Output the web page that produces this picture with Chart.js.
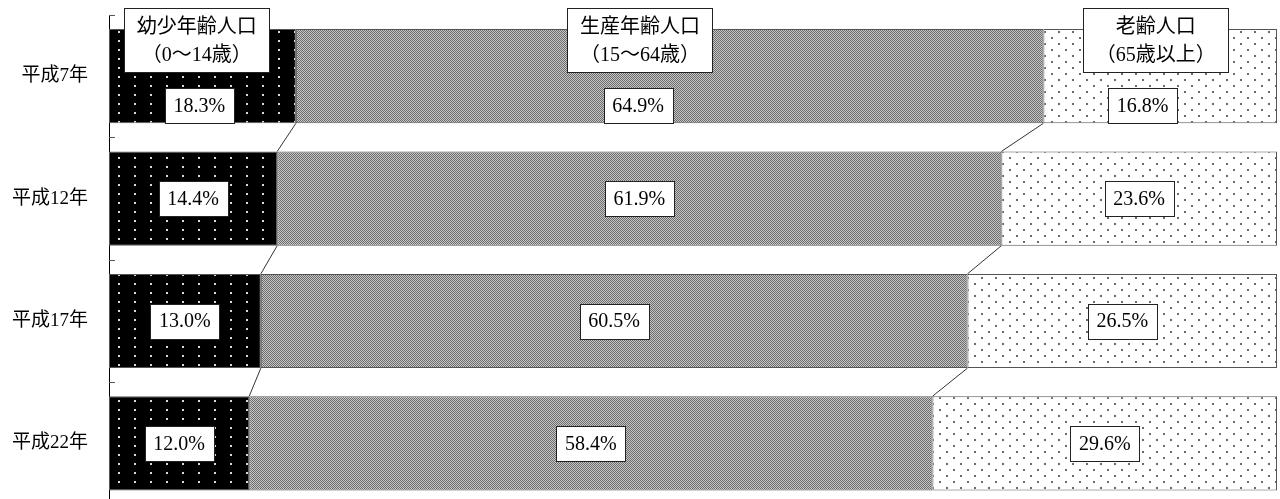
<!DOCTYPE html>
<html>
<head>
<meta charset="utf-8">
<script src="https://cdn.jsdelivr.net/npm/chart.js@4/dist/chart.umd.min.js"></script>
<style>
  html, body { margin: 0; padding: 0; background: #fff; overflow: hidden; }
  #chart { position: absolute; left: 0; top: 0; }
</style>
</head>
<body>
<canvas id="chart" width="1280" height="519"></canvas>
<script>
// categories (rows, top to bottom)
const years = ['平成7年', '平成12年', '平成17年', '平成22年'];

// bar lengths as drawn (%)
const youth   = [16.0, 14.4, 13.0, 12.0];
const working = [64.0, 62.0, 60.5, 58.5];
const elderly = [20.0, 23.6, 26.5, 29.5];

// value labels as printed
const youthText   = ['18.3%', '14.4%', '13.0%', '12.0%'];
const workingText = ['64.9%', '61.9%', '60.5%', '58.4%'];
const elderlyText = ['16.8%', '23.6%', '26.5%', '29.6%'];

// series names (two lines each)
const seriesNames = [
  ['幼少年齢人口', '（0～14歳）'],
  ['生産年齢人口', '（15～64歳）'],
  ['老齢人口', '（65歳以上）']
];

const FONT = '"Liberation Serif", "Noto Sans CJK JP", serif';

function makePattern(w, h, bg, draw) {
  const c = document.createElement('canvas');
  c.width = w; c.height = h;
  const x = c.getContext('2d');
  x.fillStyle = bg;
  x.fillRect(0, 0, w, h);
  draw(x);
  return x.createPattern(c, 'repeat');
}

// black with white dots
const darkDots = makePattern(16, 9, '#000', (x) => {
  x.fillStyle = '#d8d8d8';
  x.fillRect(6, 4, 2, 2);
});
// fine grey checker
const checker = makePattern(2, 2, '#c6c6c6', (x) => {
  x.fillStyle = '#6c6c6c';
  x.fillRect(0, 0, 1, 1);
  x.fillRect(1, 1, 1, 1);
});
// white with grey dots, staggered
const lightDots = makePattern(14, 12, '#fff', (x) => {
  x.fillStyle = '#6a6a6a';
  x.fillRect(1, 1, 2, 2);
  x.fillRect(8, 7, 2, 2);
});

const texts = [youthText, workingText, elderlyText];
// row 0 labels are nudged in the original
const row0Shift = { dx: [-3, -31.5, -17.5], dy: 29.5 };
const headShift = [-5.6, -29.7, -4.4];

const decorPlugin = {
  id: 'decor',
  afterDatasetsDraw(chart) {
    const ctx = chart.ctx;
    const y = chart.scales.y;
    const area = chart.chartArea;
    ctx.save();

    // inside tick marks at category boundaries
    ctx.strokeStyle = '#555';
    ctx.lineWidth = 1;
    for (let i = 0; i <= years.length; i++) {
      let py;
      if (i === 0) py = y.top;
      else if (i === years.length) py = y.bottom;
      else py = (y.getPixelForValue(i - 1) + y.getPixelForValue(i)) / 2;
      py = Math.round(py) + 0.5;
      ctx.beginPath();
      ctx.moveTo(area.left, py);
      ctx.lineTo(area.left + 6, py);
      ctx.stroke();
    }

    // series connector lines between rows
    ctx.strokeStyle = '#333';
    for (let k = 0; k < 2; k++) {
      const bars = chart.getDatasetMeta(k).data;
      for (let i = 0; i < bars.length - 1; i++) {
        const a = bars[i], b = bars[i + 1];
        ctx.beginPath();
        ctx.moveTo(a.x, a.y + a.height / 2);
        ctx.lineTo(b.x, b.y - b.height / 2);
        ctx.stroke();
      }
    }

    ctx.textAlign = 'center';
    ctx.textBaseline = 'middle';

    // value boxes
    for (let k = 0; k < 3; k++) {
      const bars = chart.getDatasetMeta(k).data;
      bars.forEach((el, i) => {
        let cx = (el.base + el.x) / 2;
        let cy = el.y;
        if (i === 0) { cx += row0Shift.dx[k]; cy += row0Shift.dy; }
        const w = 69, h = 35;
        const bx = Math.round(cx - w / 2) + 0.5, by = Math.round(cy - h / 2) + 0.5;
        ctx.fillStyle = '#fff';
        ctx.fillRect(bx, by, w, h);
        ctx.strokeStyle = '#222';
        ctx.strokeRect(bx, by, w, h);
        ctx.fillStyle = '#000';
        ctx.font = '20px ' + FONT;
        ctx.fillText(texts[k][i], cx, cy + 1);
      });

      // series name box above first row
      const el = bars[0];
      const cx = (el.base + el.x) / 2 + headShift[k];
      const w = 145, h = 64;
      const bx = Math.round(cx - w / 2) + 0.5, by = 8.5;
      ctx.fillStyle = '#fff';
      ctx.fillRect(bx, by, w, h);
      ctx.strokeStyle = '#222';
      ctx.strokeRect(bx, by, w, h);
      ctx.fillStyle = '#000';
      ctx.font = '20px ' + FONT;
      ctx.fillText(seriesNames[k][0], cx, by + 19);
      ctx.fillText(seriesNames[k][1], cx, by + 47);
    }
    ctx.restore();
  }
};

const mkSet = (label, data, fill) => ({
  label, data,
  backgroundColor: fill,
  borderColor: '#555',
  borderWidth: 1,
  borderSkipped: false,
  categoryPercentage: 1,
  barPercentage: 0.77
});

new Chart(document.getElementById('chart'), {
  type: 'bar',
  data: {
    labels: years,
    datasets: [
      mkSet(seriesNames[0][0], youth, darkDots),
      mkSet(seriesNames[1][0], working, checker),
      mkSet(seriesNames[2][0], elderly, lightDots)
    ]
  },
  options: {
    indexAxis: 'y',
    responsive: false,
    animation: false,
    devicePixelRatio: 1,
    layout: { padding: { top: 15, right: 3, bottom: 1, left: 0 } },
    plugins: { legend: { display: false }, tooltip: { enabled: false } },
    scales: {
      x: { stacked: true, min: 0, max: 100, display: false },
      y: {
        stacked: true,
        afterFit: (s) => { s.width = 109; },
        // tick length only spaces the labels; grid itself is hidden
        grid: { display: false, drawTicks: true, tickLength: 18 },
        border: { display: true, color: '#000', width: 1 },
        ticks: {
          color: '#000',
          padding: 3,
          font: { family: FONT, size: 19 }
        }
      }
    }
  },
  plugins: [decorPlugin]
});
</script>
</body>
</html>
